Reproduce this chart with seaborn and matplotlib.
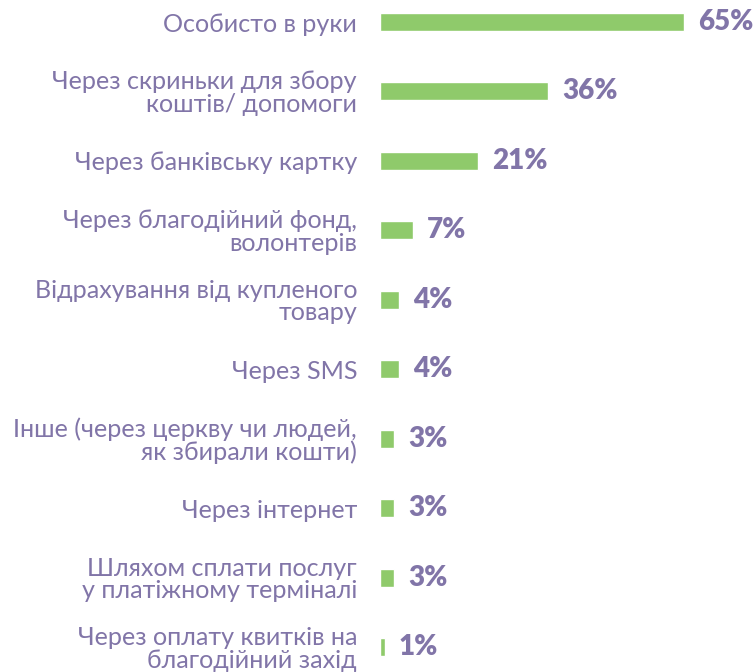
import matplotlib
matplotlib.use("Agg")
import matplotlib.pyplot as plt
import seaborn as sns
import pandas as pd

categories = [
    "Особисто в руки",
    "Через скриньки для збору\nкоштів/ допомоги",
    "Через банківську картку",
    "Через благодійний фонд,\nволонтерів",
    "Відрахування від купленого\nтовару",
    "Через SMS",
    "Інше (через церкву чи людей,\nяк збирали кошти)",
    "Через інтернет",
    "Шляхом сплати послуг\nу платіжному терміналі",
    "Через оплату квитків на\nблагодійний захід",
]
values = [65, 36, 21, 7, 4, 4, 3, 3, 3, 1]

bar_color = "#8fca6b"
text_color = "#8175a8"

sns.set_theme(style="white")
plt.rcParams["font.family"] = ["Lato", "DejaVu Sans"]

df = pd.DataFrame({"category": categories, "value": values})

fig = plt.figure(figsize=(7.54, 6.72), dpi=100)
ax = fig.add_axes([380 / 754, 0, 1 - 380 / 754, 1])

sns.barplot(data=df, x="value", y="category", orient="h", color=bar_color,
            width=0.26, saturation=1, ax=ax)

ax.set_xlim(0, 80)
ax.set_ylim(9.36, -0.317)
ax.set_xlabel("")
ax.set_ylabel("")
ax.set_xticks([])
for s in ax.spines.values():
    s.set_visible(False)

ax.tick_params(axis="y", length=0, pad=16.5)
ax.set_yticks(range(len(categories)))
ax.set_yticklabels(categories, fontsize=18.1, color=text_color,
                   linespacing=0.98, multialignment="right")

for i, v in enumerate(values):
    ax.text(v + 3.0, i, f"{v}%", va="center", ha="left", fontsize=20,
            fontweight="heavy", color=text_color)

fig.savefig("out.png", dpi=100)
